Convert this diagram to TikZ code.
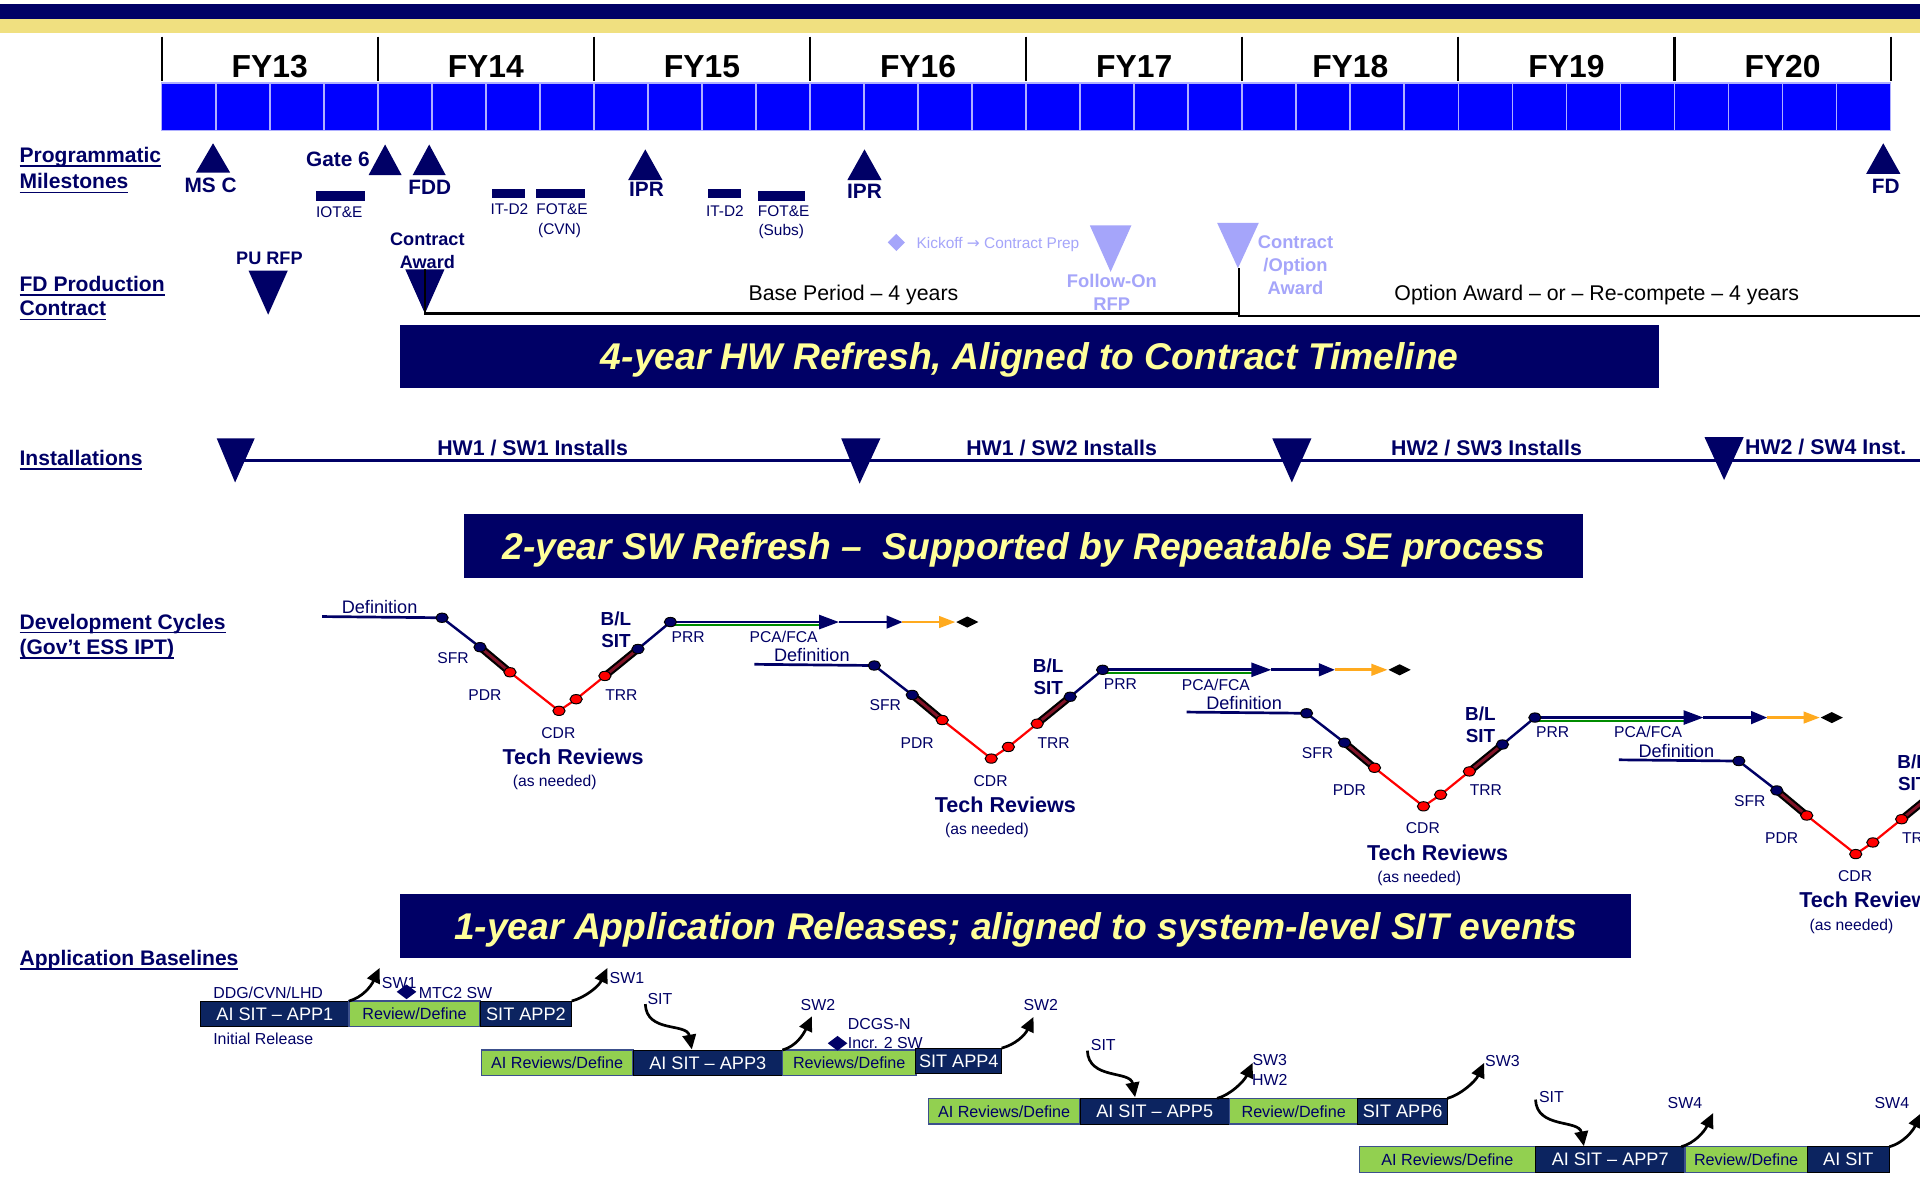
\documentclass[tikz,border=0pt]{standalone}
\usepackage{fontspec}
\setmainfont{Liberation Sans}
\newfontfamily\djv{DejaVu Sans}
\usetikzlibrary{arrows.meta}
\definecolor{navy}{RGB}{0,0,102}
\definecolor{qblue}{RGB}{0,0,255}
\definecolor{qedge}{RGB}{175,175,255}
\definecolor{topyellow}{RGB}{240,224,128}
\definecolor{lav}{RGB}{165,165,250}
\definecolor{appnavy}{RGB}{12,36,96}
\definecolor{appgreen}{RGB}{146,208,80}
\definecolor{appedge}{RGB}{60,80,140}
\definecolor{banyel}{RGB}{255,255,153}
\definecolor{orangeA}{RGB}{255,170,30}
\definecolor{greenL}{RGB}{0,140,0}
\definecolor{darkred}{RGB}{130,20,40}
\newcommand\ulx[1]{\setbox0\hbox{#1}\rlap{\vrule width\wd0 height -1.1pt depth 1.8pt}\box0}
\newcommand\myfs[1]{\fontsize{#1}{#1}\selectfont}
\begin{document}
\begin{tikzpicture}[x=0.5pt,y=-0.5pt]
\tikzset{
  every node/.style={inner sep=0pt, outer sep=0pt, text depth=0pt},
  fy/.style={font=\myfs{13}\bfseries, text=black},
  sec/.style={font=\myfs{8.6}\bfseries, text=navy, anchor=west},
  ms/.style={font=\myfs{8.5}\bfseries, text=navy},
  sm/.style={font=\myfs{6.3}, text=navy},
  mb/.style={font=\myfs{7.4}\bfseries, text=navy},
  per/.style={font=\myfs{8.7}, text=black},
  lavs/.style={font=\myfs{6.3}, text=lav},
  lavb/.style={font=\myfs{7.5}\bfseries, text=lav},
  banner/.style={fill=navy, minimum height=26pt, font=\myfs{15.2}\bfseries\itshape, text=banyel},
  inst/.style={font=\myfs{8.7}\bfseries, text=navy},
  cyc/.style={font=\myfs{6.4}, text=navy},
  cydef/.style={font=\myfs{7.4}, text=navy},
  cyb/.style={font=\myfs{7.7}\bfseries, text=navy},
  tech/.style={font=\myfs{8.8}\bfseries, text=navy},
  appn/.style={fill=appnavy, draw=black, line width=0.4pt, text=white, font=\myfs{7.4}, minimum height=10.5pt},
  appg/.style={fill=appgreen, draw=appedge, line width=0.5pt, text=navy, font=\myfs{6.6}, minimum height=10.5pt},
  apl/.style={font=\myfs{6.5}, text=navy},
  navyline/.style={draw=navy, line width=1pt},
  redline/.style={draw=red, line width=0.9pt},
  thickblk/.style={draw=black, line width=3pt},
  thickin/.style={draw=darkred, line width=1.2pt},
  ndot/.style={fill=navy, draw=black, line width=0.4pt},
  rdot/.style={fill=red, draw=black, line width=0.4pt},
  apparr/.style={draw=black, line width=1.1pt, -{Triangle[length=6pt,width=5.5pt]}},
}
\useasboundingbox (0,0) rectangle (1568,965);
\clip (0,0) rectangle (1568,965);
\fill[white] (0,0) rectangle (1568,965);
% top bars
\fill[fill=navy] (0,3) rectangle (1568,15.5);
\fill[fill=topyellow] (0,15.5) rectangle (1568,27);
% quarters
\foreach \i in {0,...,31}
  \filldraw[fill=qblue, draw=qedge, line width=0.7pt] ({132+\i*44.125},68) rectangle ({132+(\i+1)*44.125},106.5);
% year ticks and labels
\foreach \k/\lab in {0/FY13,1/FY14,2/FY15,3/FY16,4/FY17,5/FY18,6/FY19,7/FY20}{
  \draw[black, line width=0.9pt] ({132+\k*176.5},30) -- ({132+\k*176.5},66);
  \node[fy] (fy\k) at ({132+(\k+0.5)*176.5},54) {\lab};
}
\draw[black, line width=0.9pt] (1544,30) -- (1544,66);
% section labels
\node[sec] (lpm1) at (16,126.5) {\ulx{Programmatic}};
\node[sec] (lpm2) at (16,148) {\ulx{Milestones}};
\node[sec] (lfd1) at (16,231.5) {\ulx{FD Production}};
\node[sec] (lfd2) at (16,252) {\ulx{Contract}};
\node[sec] (lins) at (16,374) {\ulx{Installations}};
\node[sec] (ldev1) at (16,507.5) {\ulx{Development Cycles}};
\node[sec] (ldev2) at (16,528) {\ulx{(Gov’t ESS IPT)}};
\node[sec] (lapp) at (16,782) {\ulx{Application Baselines}};
% programmatic milestones
\fill[navy] (160,141) -- (188,141) -- (174,117) -- cycle;
\fill[navy] (301,143) -- (328,143) -- (314.5,118) -- cycle;
\fill[navy] (337,143) -- (364,143) -- (350.5,118) -- cycle;
\fill[navy] (513,147) -- (541,147) -- (527,122) -- cycle;
\fill[navy] (692,147) -- (720,147) -- (706,122) -- cycle;
\fill[navy] (1524,142) -- (1552,142) -- (1538,117) -- cycle;
\node[ms] (msc) at (172,151) {MS C};
\node[ms] (g6) at (276,130) {Gate 6};
\node[ms] (fdd) at (351,153) {FDD};
\node[ms] (ipr1) at (528,155) {IPR};
\node[ms] (ipr2) at (706,156) {IPR};
\node[ms] (fd) at (1540,152) {FD};
\fill[navy] (258,156) rectangle (298,164);
\node[sm] (iote) at (277,173) {IOT\&E};
\fill[navy] (402,154) rectangle (429,162);
\node[sm] (itd1) at (416,171) {IT-D2};
\fill[navy] (438,154) rectangle (478,162);
\node[sm] (fot1) at (459,171) {FOT\&E};
\node[sm] (cvn) at (457,187) {(CVN)};
\fill[navy] (578,154) rectangle (605,162);
\node[sm] (itd2) at (592,172) {IT-D2};
\fill[navy] (619,156) rectangle (657,164);
\node[sm] (fot2) at (640,172) {FOT\&E};
\node[sm] (subs) at (638,188) {(Subs)};
% FD production contract
\node[mb] (purfp) at (220,211) {PU RFP};
\fill[navy] (203,221) -- (235,221) -- (219,257) -- cycle;
\node[mb] (ca1) at (349,195) {Contract};
\node[mb] (ca2) at (349,214) {Award};
\fill[navy] (331,220) -- (363,220) -- (347,256) -- cycle;
\draw[black, line width=1pt] (347,220) -- (347,256) -- (1012,256);
\draw[black, line width=1pt] (1012,219) -- (1012,258) -- (1568,258);
\node[per] (base) at (697,239) {Base Period – 4 years};
\node[per] (opt) at (1304,239) {Option Award – or – Re-compete – 4 years};
\fill[lav] (725,198) -- (732,191) -- (739,198) -- (732,205) -- cycle;
\node[lavs] (kick) at (815,198) {Kickoff {\djv →} Contract Prep};
\fill[lav] (890,184) -- (924,184) -- (907,222) -- cycle;
\node[lavb] (fo1) at (908,229) {Follow-On};
\node[lavb] (fo2) at (908,248) {RFP};
\fill[lav] (994,182) -- (1028,182) -- (1011,219) -- cycle;
\node[lavb] (co1) at (1058,198) {Contract};
\node[lavb] (co2) at (1058,216) {/Option};
\node[lavb] (co3) at (1058,235) {Award};
% banner 1
\node[banner, minimum width=514pt] (b1) at (841,291) {4-year HW Refresh, Aligned to Contract Timeline};
% installations
\draw[navy, line width=1.1pt] (192,376) -- (1568,376);
\fill[navy] (177,358) -- (208,358) -- (192,394) -- cycle;
\fill[navy] (687,358) -- (719,358) -- (702,395) -- cycle;
\fill[navy] (1039,358) -- (1071,358) -- (1055,394) -- cycle;
\fill[navy] (1392,357) -- (1424,357) -- (1408,392) -- cycle;
\node[inst] (i1) at (435,366) {HW1 / SW1 Installs};
\node[inst] (i2) at (867,366) {HW1 / SW2 Installs};
\node[inst] (i3) at (1214,366) {HW2 / SW3 Installs};
\node[inst] (i4) at (1491,365) {HW2 / SW4 Inst.};
% banner 2
\node[banner, minimum width=457pt] (b2) at (836,446) {2-year SW Refresh –\ \ Supported by Repeatable SE process};
% development cycles
\foreach \dx/\dy/\k in {0/0/1,353/39/2,706/78/3,1059/117/4}{
\begin{scope}[shift={(\dx,\dy)}]
  \coordinate (c\k a) at (263,503.5);
  \coordinate (c\k d) at (361,504.5);
  \coordinate (c\k s) at (392,528.5);
  \coordinate (c\k p) at (416.5,549);
  \coordinate (c\k c) at (456.5,580.5);
  \coordinate (c\k m) at (470.5,571);
  \coordinate (c\k t) at (494,552);
  \coordinate (c\k b) at (521,530);
  \coordinate (c\k r) at (547.5,508);
  \draw[navyline, line width=1.1pt] (c\k a) -- (c\k d);
  \draw[navyline] (c\k d) -- (c\k s);
  \draw[redline] (c\k p) -- (c\k c) -- (c\k m) -- (c\k t);
  \draw[navyline] (c\k b) -- (c\k r);
  \draw[thickblk] (c\k s) -- (c\k p);
  \draw[thickin] (c\k s) -- (c\k p);
  \draw[thickblk] (c\k t) -- (c\k b);
  \draw[thickin] (c\k t) -- (c\k b);
  % arrow row
  \draw[greenL, line width=0.9pt] (549,510.5) -- (674,510.5);
  \draw[navy, line width=1.1pt] (c\k r) -- (672,508);
  \fill[navy] (669,502) -- (685,508) -- (669,514) -- cycle;
  \draw[navy, line width=1.1pt] (685,508) -- (726,508);
  \fill[navy] (724,502.5) -- (737,508) -- (724,513.5) -- cycle;
  \draw[orangeA, line width=1.1pt] (737,508) -- (769,508);
  \fill[orangeA] (767,503) -- (780,508) -- (767,513) -- cycle;
  \fill[black] (781,508) -- (790,503.5) -- (799,508) -- (790,512.5) -- cycle;
  % dots
  \filldraw[ndot] (c\k d) ellipse [x radius=2.5pt, y radius=1.9pt];
  \filldraw[ndot] (c\k s) ellipse [x radius=2.5pt, y radius=1.9pt];
  \filldraw[rdot] (c\k p) ellipse [x radius=2.5pt, y radius=1.9pt];
  \filldraw[rdot] (c\k c) ellipse [x radius=2.5pt, y radius=1.9pt];
  \filldraw[rdot] (c\k m) ellipse [x radius=2.5pt, y radius=1.9pt];
  \filldraw[rdot] (c\k t) ellipse [x radius=2.5pt, y radius=1.9pt];
  \filldraw[ndot] (c\k b) ellipse [x radius=2.5pt, y radius=1.9pt];
  \filldraw[ndot] (c\k r) ellipse [x radius=2.5pt, y radius=1.9pt];
  % labels
  \node[cydef] (c\k def) at (310,496) {Definition};
  \node[cyc] (c\k sfr) at (370,537) {SFR};
  \node[cyc] (c\k pdr) at (396,567.5) {PDR};
  \node[cyc] (c\k cdr) at (456,598.5) {CDR};
  \node[cyc] (c\k trr) at (507.5,567.5) {TRR};
  \node[cyb] (c\k bl) at (503,505) {B/L};
  \node[cyb] (c\k sit) at (503,523) {SIT};
  \node[cyc] (c\k prr) at (562,520) {PRR};
  \node[cyc] (c\k pca) at (640,520) {PCA/FCA};
  \node[tech] (c\k tech) at (468,618) {Tech Reviews};
  \node[cyc] (c\k asn) at (453,638) {(as needed)};
\end{scope}
}
% banner 3
\node[banner, minimum width=502.5pt] (b3) at (829.5,756) {1-year Application Releases; aligned to system-level SIT events};
% application baselines
\node[appn, minimum width=60.5pt] (ap1) at (224.5,828) {AI SIT – APP1};
\node[appg, minimum width=53.5pt] (ap2) at (338.5,828) {Review/Define};
\node[appn, minimum width=37.5pt] (ap3) at (429.5,828) {SIT APP2};
\node[appg, minimum width=62pt] (bp1) at (455,868) {AI Reviews/Define};
\node[appn, minimum width=61pt] (bp2) at (578,868) {AI SIT – APP3};
\node[appg, minimum width=54.5pt] (bp3) at (693.5,868) {Reviews/Define};
\node[appn, minimum width=35pt] (bp4) at (783,866.5) {SIT APP4};
\node[appg, minimum width=62pt] (cp1) at (820,907.5) {AI Reviews/Define};
\node[appn, minimum width=61pt] (cp2) at (943,907.5) {AI SIT – APP5};
\node[appg, minimum width=52.5pt] (cp3) at (1056.5,907.5) {Review/Define};
\node[appn, minimum width=36.5pt] (cp4) at (1145.5,907.5) {SIT APP6};
\node[appg, minimum width=72pt] (dp1) at (1182,947) {AI Reviews/Define};
\node[appn, minimum width=61pt] (dp2) at (1315,947) {AI SIT – APP7};
\node[appg, minimum width=50pt] (dp3) at (1426,947) {Review/Define};
\node[appn, minimum width=33.5pt] (dp4) at (1509.5,947) {AI SIT};
% arrow end points
\coordinate (u1) at (310,790.5);
\coordinate (u2) at (496,790.5);
\coordinate (s1) at (527,820);
\coordinate (d1) at (565,857);
\coordinate (u3) at (663,830);
\coordinate (u4) at (844,830.5);
\coordinate (s2) at (888,858);
\coordinate (d2) at (927,896);
\coordinate (u5) at (1023,868);
\coordinate (u6) at (1212,868);
\coordinate (s3) at (1254,898);
\coordinate (d3) at (1293.5,936);
\coordinate (u7) at (1399,909);
\coordinate (u8) at (1569,909);
\draw[apparr] (ap1.north east) .. controls +(11,-3) and +(-7,15) .. (u1);
\draw[apparr] (ap3.north east) .. controls +(11,-3) and +(-7,15) .. (u2);
\draw[apparr] (s1) .. controls +(1,24) and +(-4,-22) .. (d1);
\draw[apparr] (bp2.north east) .. controls +(11,-3) and +(-7,15) .. (u3);
\draw[apparr] (bp4.north east) .. controls +(11,-3) and +(-7,15) .. (u4);
\draw[apparr] (s2) .. controls +(1,24) and +(-4,-22) .. (d2);
\draw[apparr] ([xshift=-5pt]cp2.north east) .. controls +(11,-3) and +(-7,15) .. (u5);
\draw[apparr] (cp4.north east) .. controls +(11,-3) and +(-7,15) .. (u6);
\draw[apparr] (s3) .. controls +(1,24) and +(-4,-22) .. (d3);
\draw[apparr] ([xshift=-1.5pt]dp2.north east) .. controls +(11,-3) and +(-7,15) .. (u7);
\draw[apparr] (dp4.north east) .. controls +(11,-3) and +(-7,15) .. (u8);
% app labels
\node[apl] (ddg) at (219,811) {DDG/CVN/LHD};
\node[apl] (initr) at (215,848.5) {Initial Release};
\node[apl] (sw1a) at (326,803) {SW1};
\fill[navy] (324,810) -- (332,804) -- (340,810) -- (332,816) -- cycle;
\node[apl] (mtc) at (372,811) {MTC2 SW};
\node[apl] (sw1b) at (512,799) {SW1};
\node[apl] (sit1) at (539,816) {SIT};
\node[apl] (sw2a) at (668,821) {SW2};
\fill[navy] (676,852) -- (684,846) -- (692,852) -- (684,858) -- cycle;
\node[apl] (dcgs) at (718,836) {DCGS-N};
\node[apl] (incr) at (723,852) {Incr. 2 SW};
\node[apl] (sw2b) at (850,821) {SW2};
\node[apl] (sit2) at (901,853) {SIT};
\node[apl] (sw3a) at (1037,866) {SW3};
\node[apl] (hw2) at (1037,882) {HW2};
\node[apl] (sw3b) at (1227,866.5) {SW3};
\node[apl] (sit3) at (1267,896) {SIT};
\node[apl] (sw4a) at (1376,900.5) {SW4};
\node[apl] (sw4b) at (1545,900.5) {SW4};
\end{tikzpicture}
\end{document}
